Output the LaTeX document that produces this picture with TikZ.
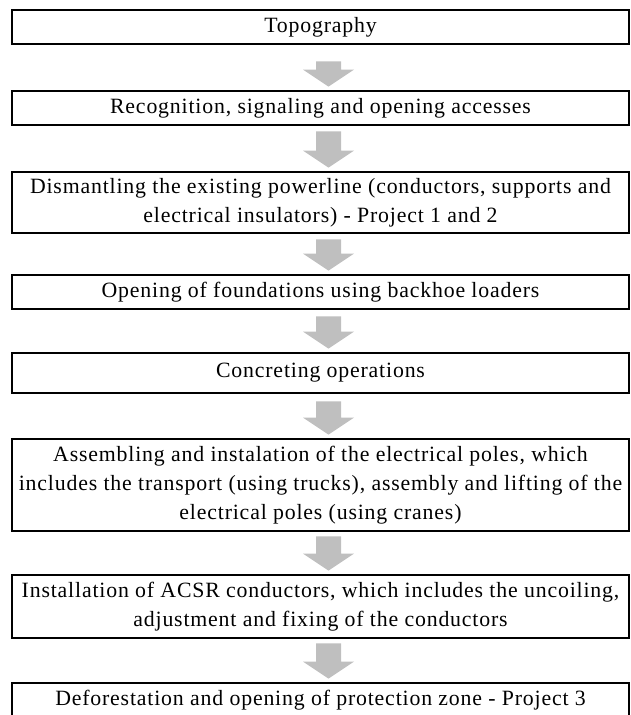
\documentclass[tikz,border=0pt]{standalone}
\usepackage{fontspec}
\setmainfont{Liberation Serif}
\newfontfamily\boxfont[LetterSpace=3.8]{Liberation Serif}
\usetikzlibrary{calc}

\begin{document}
\begin{tikzpicture}[x=0.5pt, y=-0.5pt,
  stepbox/.style={draw, line width=1.4pt, minimum width=308.5pt,
    align=center, inner sep=0pt, font=\boxfont\fontsize{10.9}{14.5}\selectfont},
  flowarrow/.style={fill=black!25}]

\useasboundingbox (0,0) rectangle (630,715);

%------------------ STEPS ------------------%
\node[stepbox, minimum height=17pt]   (topo)  at (320.5,27)    {Topography};
\node[stepbox, minimum height=17pt]   (recog) at (320.5,108)   {Recognition, signaling and opening accesses};
\node[stepbox, minimum height=30.5pt] (dism)  at (320.5,202.5) {Dismantling the existing powerline (conductors, supports and\\ electrical insulators) - Project 1 and 2};
\node[stepbox, minimum height=17pt]   (found) at (320.5,292)   {Opening of foundations using backhoe loaders};
\node[stepbox, minimum height=20pt]   (concr) at (320.5,373)   {Concreting operations};
\node[stepbox, minimum height=46pt]   (poles) at (320.5,485)   {Assembling and instalation of the electrical poles, which\\ includes the transport (using trucks), assembly and lifting of the\\ electrical poles (using cranes)};
\node[stepbox, minimum height=31.5pt] (acsr)  at (320.5,606.5) {Installation of ACSR conductors, which includes the uncoiling,\\ adjustment and fixing of the conductors};
\node[stepbox, minimum height=17pt]   (defor) at (320.5,700)   {Deforestation and opening of protection zone - Project 3};

%------------------ ARROWS ------------------%
\foreach \a/\b/\g in {topo/recog/8, recog/dism/2.5, dism/found/2.5, found/concr/3,
                      concr/poles/3.5, poles/acsr/2, acsr/defor/2}
  \fill[flowarrow]
    let \p1=($(\a.south)+(4pt,-\g pt)$), \p2=($(\b.north)+(4pt,1.5pt)$) in
    (\x1-6.25pt,\y1) -- (\x1+6.25pt,\y1) -- (\x1+6.25pt,\y2+8.5pt)
    -- (\x1+12.75pt,\y2+8.5pt) -- (\x2,\y2) -- (\x1-12.75pt,\y2+8.5pt)
    -- (\x1-6.25pt,\y2+8.5pt) -- cycle;

\end{tikzpicture}
\end{document}
